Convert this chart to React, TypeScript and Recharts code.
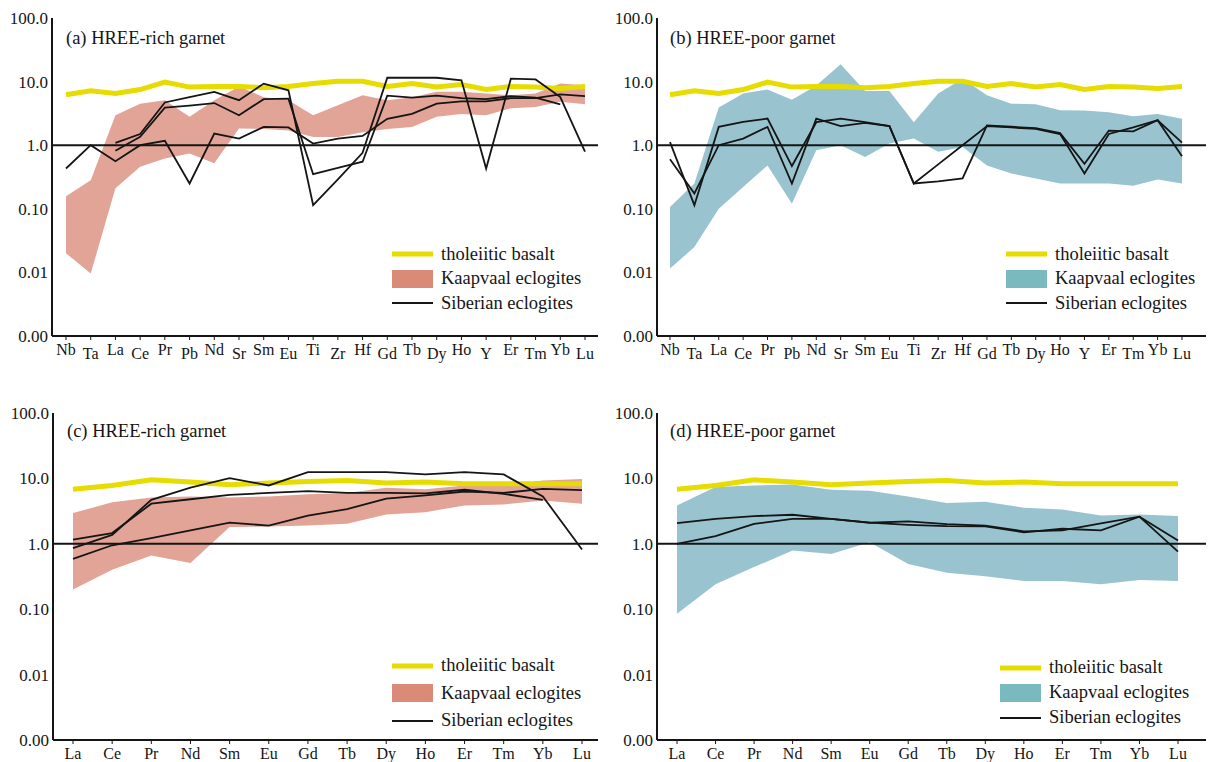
import React from 'react';
import {
    ComposedChart,
    Area,
    Line,
    XAxis,
    YAxis,
    ReferenceLine,
    Legend
} from 'recharts';

const FONT = '"Liberation Serif", "Times New Roman", serif';
const YELLOW = '#e6dc00';
const INK = '#151515';

// element order on the x axis
const traceElements = ['Nb', 'Ta', 'La', 'Ce', 'Pr', 'Pb', 'Nd', 'Sr', 'Sm', 'Eu', 'Ti', 'Zr', 'Hf', 'Gd', 'Tb', 'Dy', 'Ho', 'Y', 'Er', 'Tm', 'Yb', 'Lu'];
const reeElements = ['La', 'Ce', 'Pr', 'Nd', 'Sm', 'Eu', 'Gd', 'Tb', 'Dy', 'Ho', 'Er', 'Tm', 'Yb', 'Lu'];

// tholeiitic basalt
const basaltTrace = [6.2, 7.2, 6.5, 7.5, 9.8, 8.2, 8.4, 8.4, 8.0, 8.4, 9.3, 10.1, 10.1, 8.4, 9.3, 8.2, 9.0, 7.5, 8.4, 8.2, 7.8, 8.4];
const basaltRee = [6.8, 7.8, 9.5, 8.8, 8.0, 8.5, 9.0, 9.3, 8.5, 8.8, 8.3, 8.3, 8.3, 8.3];

// Kaapvaal eclogite envelopes
const kaapRichTraceLo = [0.02, 0.0096, 0.21, 0.46, 0.62, 0.74, 0.52, 1.83, 1.8, 1.7, 1.35, 1.35, 1.6, 1.8, 1.94, 2.8, 3.1, 2.96, 3.8, 4.0, 4.8, 4.4];
const kaapRichTraceHi = [0.158, 0.28, 2.96, 4.5, 5.1, 2.8, 5.1, 8.4, 5.7, 5.1, 2.96, 4.25, 6.1, 5.1, 5.7, 6.9, 6.9, 6.5, 6.1, 6.5, 9.3, 8.8];
const kaapPoorTraceLo = [0.0115, 0.025, 0.1, 0.22, 0.48, 0.12, 0.83, 1.0, 0.65, 1.06, 1.27, 0.79, 0.94, 0.48, 0.36, 0.3, 0.25, 0.25, 0.25, 0.23, 0.29, 0.25];
const kaapPoorTraceHi = [0.107, 0.25, 3.9, 6.5, 7.5, 5.2, 8.7, 18.8, 7.1, 7.1, 2.3, 6.5, 11.1, 6.1, 4.5, 4.4, 3.55, 3.5, 3.3, 2.85, 3.1, 2.6];
const kaapRichReeLo = [0.2, 0.4, 0.66, 0.51, 1.8, 1.84, 1.9, 2.02, 2.8, 3.05, 3.86, 4.0, 4.6, 4.1];
const kaapRichReeHi = [2.95, 4.3, 5.1, 5.3, 5.1, 5.3, 5.7, 6.0, 7.2, 6.8, 7.8, 7.8, 9.3, 9.8];
const kaapPoorReeLo = [0.085, 0.24, 0.44, 0.79, 0.7, 1.06, 0.49, 0.36, 0.32, 0.27, 0.27, 0.24, 0.28, 0.27];
const kaapPoorReeHi = [3.86, 7.4, 7.8, 8.1, 6.7, 6.5, 5.3, 4.2, 4.4, 3.56, 3.35, 2.7, 2.8, 2.65];

// Siberian eclogite samples
const sibRichTrace1 = [0.43, 1.0, 0.56, 1.0, 1.17, 0.25, 1.52, 1.27, 1.94, 1.9, 1.06, 1.27, 1.4, 2.6, 3.1, 4.5, 4.9, 4.9, 5.5, 5.5, 6.3, 5.9];
const sibRichTrace2 = [null, null, 0.82, 1.35, 3.9, 4.2, 4.6, 2.96, 5.3, 5.4, 0.35, 0.44, 0.55, 6.0, 5.6, 6.0, 5.5, 5.3, 5.9, 5.6, 4.4, null];
const sibRichTrace3 = [null, null, 1.09, 1.5, 4.7, 5.7, 6.9, 5.1, 9.3, 7.3, 0.114, 0.29, 0.76, 11.5, 11.5, 11.5, 10.5, 0.43, 11.1, 10.8, 5.7, 0.79];
const sibPoorTrace1 = [1.12, 0.114, 1.94, 2.33, 2.62, 0.47, 2.3, 2.62, 2.3, 2.0, 0.25, 0.5, 1.0, 2.0, 1.9, 1.8, 1.5, 0.36, 1.5, 1.9, 2.47, 1.1];
const sibPoorTrace2 = [0.6, 0.174, 1.0, 1.27, 1.94, 0.25, 2.62, 2.0, 2.25, 2.0, 0.25, 0.27, 0.3, 2.05, 1.95, 1.85, 1.55, 0.51, 1.7, 1.65, 2.47, 0.67];
const sibRichRee1 = [0.86, 1.37, 4.7, 7.2, 10.1, 7.8, 12.5, 12.5, 12.5, 11.5, 12.5, 11.5, 5.3, 0.82];
const sibRichRee2 = [1.16, 1.46, 4.1, 4.8, 5.6, 6.0, 6.4, 6.0, 6.0, 5.9, 6.7, 5.8, 4.7, null];
const sibRichRee3 = [0.59, 0.95, 1.22, 1.6, 2.1, 1.9, 2.7, 3.4, 4.9, 5.5, 6.3, 6.0, 6.9, 6.6];
const sibPoorRee1 = [2.07, 2.41, 2.65, 2.78, 2.4, 2.1, 2.2, 2.0, 1.9, 1.55, 1.6, 2.05, 2.6, 0.76];
const sibPoorRee2 = [1.0, 1.31, 2.02, 2.4, 2.4, 2.1, 1.95, 1.86, 1.85, 1.5, 1.7, 1.6, 2.6, 1.12];

const yTicks = [0.001, 0.01, 0.1, 1, 10, 100];
const yTickLabels = ['0.00', '0.01', '0.10', '1.0', '10.0', '100.0'];

const buildRows = (elements, basalt, lo, hi, samples) =>
    elements.map((el, i) => {
        const row = { el, basalt: basalt[i], band: [lo[i], hi[i]] };
        samples.forEach((s, k) => { row['s' + k] = s[i]; });
        return row;
    });

const panels = [
    {
        id: 'a', title: '(a) HREE-rich garnet', left: 0, top: 0, width: 600, height: 380,
        rows: buildRows(traceElements, basaltTrace, kaapRichTraceLo, kaapRichTraceHi, [sibRichTrace1, sibRichTrace2, sibRichTrace3]),
        nSamples: 3, band: '#e2a497', swatch: '#d98b78',
        yw: 52, mt: 18, xh: 30, mb: 14, padL: 14, padR: 13, stagger: true,
        titleX: 66, titleY: 38, legX: 392, legY: 242, legRow: 24.5
    },
    {
        id: 'b', title: '(b) HREE-poor garnet', left: 600, top: 0, width: 608, height: 380,
        rows: buildRows(traceElements, basaltTrace, kaapPoorTraceLo, kaapPoorTraceHi, [sibPoorTrace1, sibPoorTrace2]),
        nSamples: 2, band: '#99c4cf', swatch: '#7ab9bd',
        yw: 57, mt: 18, xh: 30, mb: 14, padL: 13, padR: 24, stagger: true,
        titleX: 70, titleY: 38, legX: 406, legY: 242, legRow: 24.5
    },
    {
        id: 'c', title: '(c) HREE-rich garnet', left: 0, top: 390, width: 600, height: 372,
        rows: buildRows(reeElements, basaltRee, kaapRichReeLo, kaapRichReeHi, [sibRichRee1, sibRichRee2, sibRichRee3]),
        nSamples: 3, band: '#e2a497', swatch: '#d98b78',
        yw: 53, mt: 23, xh: 20, mb: 2, padL: 20, padR: 16, stagger: false,
        titleX: 67, titleY: 41, legX: 392, legY: 262, legRow: 27.5
    },
    {
        id: 'd', title: '(d) HREE-poor garnet', left: 600, top: 390, width: 608, height: 372,
        rows: buildRows(reeElements, basaltRee, kaapPoorReeLo, kaapPoorReeHi, [sibPoorRee1, sibPoorRee2]),
        nSamples: 2, band: '#99c4cf', swatch: '#7ab9bd',
        yw: 57, mt: 23, xh: 20, mb: 2, padL: 20, padR: 28, stagger: false,
        titleX: 70, titleY: 41, legX: 400, legY: 265, legRow: 25
    }
];

const ElementTick = ({ x, y, payload, index, stagger }) => (
    <text
        x={x}
        y={y + 13 + (stagger && index % 2 === 1 ? 4 : 0)}
        textAnchor="middle"
        fontFamily={FONT}
        fontSize={16}
        fill={INK}
    >
        {payload.value}
    </text>
);

const LegendBox = ({ swatch, rowH }) => {
    const items = [
        { label: 'tholeiitic basalt', kind: 'line', color: YELLOW, w: 5 },
        { label: 'Kaapvaal eclogites', kind: 'rect', color: swatch },
        { label: 'Siberian eclogites', kind: 'line', color: INK, w: 2 }
    ];
    return (
        <div style={{ fontFamily: FONT, fontSize: 18.5, color: INK, whiteSpace: 'nowrap' }}>
            {items.map((it) => (
                <div key={it.label} style={{ display: 'flex', alignItems: 'center', height: rowH }}>
                    <svg width={41} height={18} style={{ marginRight: 8, flex: 'none' }}>
                        {it.kind === 'rect'
                            ? <rect x={0} y={0} width={41} height={18} fill={it.color} />
                            : <line x1={0} x2={41} y1={9} y2={9} stroke={it.color} strokeWidth={it.w} />}
                    </svg>
                    <span>{it.label}</span>
                </div>
            ))}
        </div>
    );
};

const Panel = ({ p }) => (
    <div style={{ position: 'absolute', left: p.left, top: p.top, width: p.width, height: p.height }}>
        <ComposedChart
            width={p.width}
            height={p.height}
            data={p.rows}
            margin={{ top: p.mt, right: 2, bottom: p.mb, left: 0 }}
        >
            <XAxis
                dataKey="el"
                type="category"
                scale="point"
                interval={0}
                height={p.xh}
                padding={{ left: p.padL, right: p.padR }}
                axisLine={{ stroke: INK, strokeWidth: 2 }}
                tickLine={{ stroke: INK, strokeWidth: 1 }}
                tickSize={4}
                tickMargin={2}
                tick={(props) => <ElementTick {...props} stagger={p.stagger} />}
            />
            <YAxis
                type="number"
                scale="log"
                domain={[0.001, 100]}
                allowDataOverflow
                ticks={yTicks}
                interval={0}
                width={p.yw}
                axisLine={{ stroke: INK, strokeWidth: 2 }}
                tickLine={false}
                tickSize={3}
                tickMargin={1}
                tick={{ fontFamily: FONT, fontSize: 17, fill: INK }}
                tickFormatter={(v) => yTickLabels[yTicks.indexOf(v)]}
            />
            <Legend
                layout="vertical"
                align="center"
                verticalAlign="middle"
                wrapperStyle={{ left: p.legX, top: p.legY, width: 210, height: 'auto' }}
                content={() => <LegendBox swatch={p.swatch} rowH={p.legRow} />}
            />
            <Area
                dataKey="band"
                type="linear"
                stroke="none"
                fill={p.band}
                fillOpacity={1}
                isAnimationActive={false}
                legendType="none"
            />
            <ReferenceLine y={1} stroke={INK} strokeWidth={2} />
            <Line
                dataKey="basalt"
                type="linear"
                stroke={YELLOW}
                strokeWidth={5}
                dot={false}
                isAnimationActive={false}
            />
            {Array.from({ length: p.nSamples }, (_, k) => (
                <Line
                    key={k}
                    dataKey={'s' + k}
                    type="linear"
                    stroke={INK}
                    strokeWidth={1.8}
                    dot={false}
                    connectNulls={false}
                    isAnimationActive={false}
                />
            ))}
        </ComposedChart>
        <div
            style={{
                position: 'absolute',
                left: p.titleX,
                top: p.titleY - 12,
                fontFamily: FONT,
                fontSize: 18.5,
                lineHeight: '24px',
                color: INK,
                whiteSpace: 'nowrap'
            }}
        >
            {p.title}
        </div>
    </div>
);

export default function App() {
    return (
        <div style={{ position: 'absolute', left: 0, top: 0, width: 1208, height: 762, background: '#fff' }}>
            {panels.map((p) => <Panel key={p.id} p={p} />)}
        </div>
    );
}
